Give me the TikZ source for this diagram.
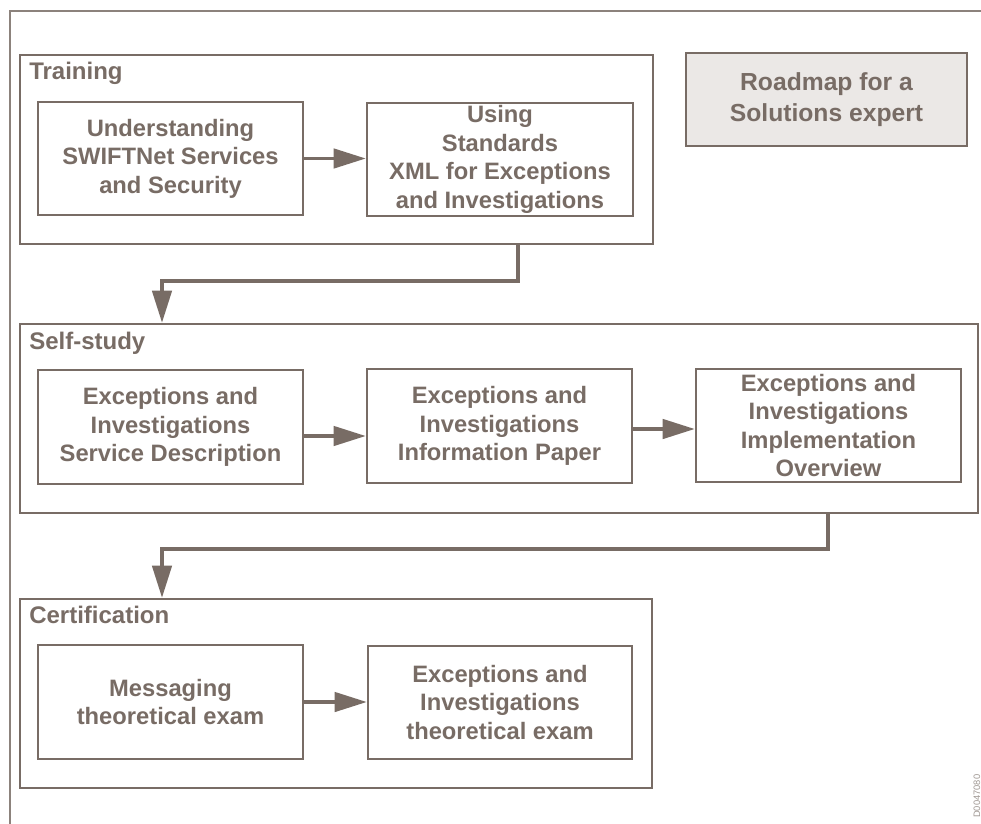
\documentclass[tikz,border=0pt]{standalone}
\usepackage{fontspec}
\setmainfont{Liberation Sans}
\usetikzlibrary{arrows.meta,fit}
\definecolor{ink}{RGB}{120,108,101}
\definecolor{panel}{RGB}{235,232,230}

\begin{document}
\begin{tikzpicture}[x=0.75pt,y=-0.75pt,
  frame/.style={draw=ink, line width=1.9pt, inner sep=0pt},
  item/.style={draw=ink, line width=1.9pt, inner sep=0pt, align=center,
    text=ink, font=\bfseries\fontsize{17.8}{21.4}\selectfont},
  dims/.style 2 args={minimum width=#1*0.75pt, minimum height=#2*0.75pt},
  tag/.style={anchor=west, inner sep=0pt, text=ink,
    font=\bfseries\fontsize{18}{20}\selectfont},
  flow/.style={draw=ink, line width=2.5pt,
    -{Triangle[length=24pt,width=14.5pt]}}]

% page area and clipping
\useasboundingbox (0,0) rectangle (981,824);
\clip (0,0) rectangle (981,824);
\fill[white] (0,0) rectangle (981,824);

% outer border (runs past the page on the right and bottom)
\draw[ink!85, line width=1.1pt] (10,11) rectangle (1100,900);

% title panel
\node[item, fill=panel, dims={281}{93}, font=\bfseries\fontsize{18.5}{23.5}\selectfont]
  (title) at (826.5,99.5) {Roadmap for a\\Solutions expert};

% stage frames
\node[frame, fit={(20,55) (653,244)}] (train) {};
\node[frame, fit={(20,324) (978,513)}] (self) {};
\node[frame, fit={(20,599) (652,788)}] (cert) {};

\node[tag] (trainlbl) at (29,73) {Training};
\node[tag] (selflbl) at (29,343) {Self-study};
\node[tag] (certlbl) at (29,615) {Certification};

% training steps
\node[item, dims={265}{113}] (t1) at (170.5,158.5)
  {Understanding\\SWIFTNet Services\\and Security};
\node[item, dims={266}{113}] (t2) at (500,159.5)
  {Using\\Standards\\XML for Exceptions\\and Investigations};

% self-study steps
\node[item, dims={265}{114}] (s1) at (170.5,427)
  {Exceptions and\\Investigations\\Service Description};
\node[item, dims={265}{114}] (s2) at (499.5,426)
  {Exceptions and\\Investigations\\Information Paper};
\node[item, dims={265}{113}] (s3) at (828.5,425.5)
  {Exceptions and\\Investigations\\Implementation\\Overview};

% certification steps
\node[item, dims={265}{114}] (c1) at (170.5,702)
  {Messaging\\theoretical exam};
\node[item, dims={264}{113}] (c2) at (500,702.5)
  {Exceptions and\\Investigations\\theoretical exam};

% arrows inside the stages
\draw[flow] (t1.east) -- (t1.east -| t2.west);
\draw[flow] ([yshift=-6.75pt]s1.east) -- ([yshift=-6.75pt]s1.east -| s2.west);
\draw[flow] ([yshift=-2.25pt]s2.east) -- ([yshift=-2.25pt]s2.east -| s3.west);
\draw[flow] (c1.east) -- (c1.east -| c2.west);

% links between the stages
\coordinate (k1a) at (518,281);
\coordinate (k1b) at (162,281);
\coordinate (k2a) at (828,549);
\coordinate (k2b) at (162,549);
\draw[flow] (train.south -| k1a) -- (k1a) -- (k1b) -- (self.north -| k1b);
\draw[flow] (self.south -| k2a) -- (k2a) -- (k2b) -- (cert.north -| k2b);

% figure reference along the right edge
\node[rotate=90, anchor=base west, inner sep=0pt, text=ink!70,
  font=\fontsize{7}{8}\selectfont] (figref) at (980,818) {D0047080};
\end{tikzpicture}
\end{document}
